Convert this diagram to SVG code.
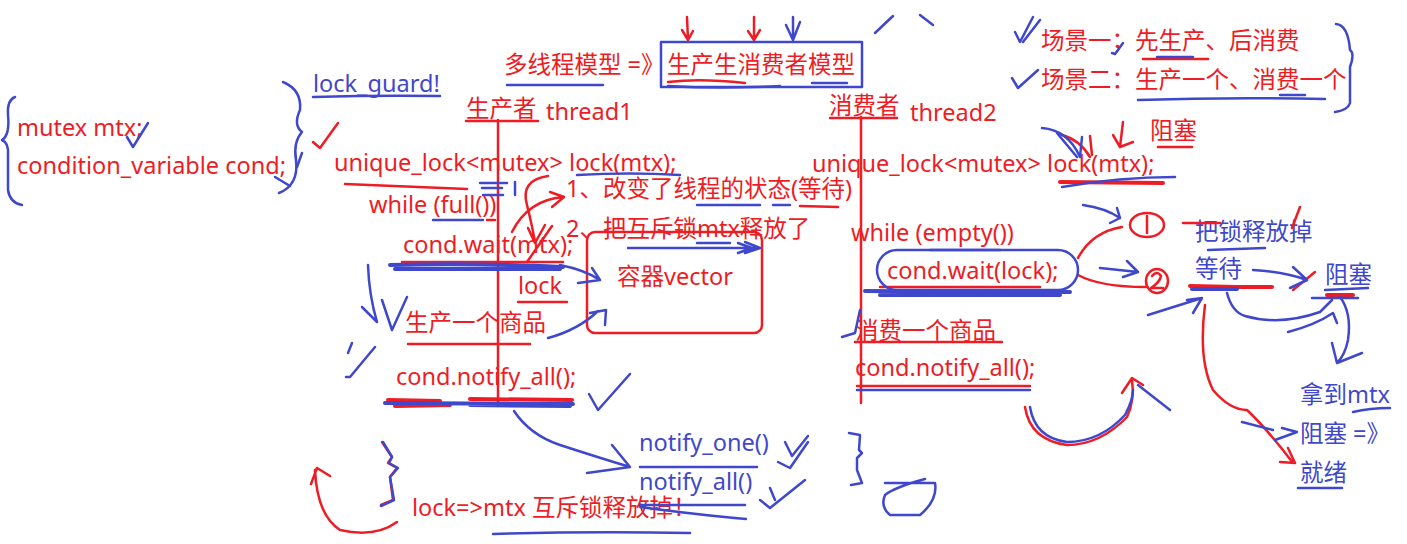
<svg xmlns="http://www.w3.org/2000/svg" width="1407" height="544" viewBox="0 0 1407 544">
<style>
text{font-family:"Noto Sans","Noto Sans CJK SC",sans-serif;font-size:23.5px}
.r{fill:#ee1c24}
.b{fill:#3f48cc}
.rs{stroke:#ee1c24;fill:none;stroke-width:2.5;stroke-linecap:round;stroke-linejoin:round}
.bs{stroke:#3f48cc;fill:none;stroke-width:2.5;stroke-linecap:round;stroke-linejoin:round}
.th{stroke-width:4}
</style>
<rect width="1407" height="544" fill="#fff"/>
<g id="texts">
<text class="b" x="313" y="92">lock_guard!</text>
<text class="r" x="17" y="136">mutex mtx;</text>
<text class="r" x="17" y="174">condition_variable cond;</text>
<text class="r" x="504" y="73">多线程模型 =》</text>
<text class="r" x="667" y="73">生产生消费者模型</text>
<text class="r" x="466" y="117">生产者</text>
<text class="r" x="546" y="120">thread1</text>
<text class="r" x="829" y="114">消费者</text>
<text class="r" x="910" y="121">thread2</text>
<text class="r" x="1041" y="49">场景一；先生产、后消费</text>
<text class="r" x="1041" y="88">场景二：生产一个、消费一个</text>
<text class="r" x="1150" y="139">阻塞</text>
<text class="r" x="334" y="171">unique_lock&lt;mutex&gt; lock(mtx);</text>
<text class="r" x="812" y="172">unique_lock&lt;mutex&gt; lock(mtx);</text>
<text class="r" x="369" y="213">while (full())</text>
<text class="r" x="566" y="197">1、改变了线程的状态(等待)</text>
<text class="r" x="566" y="237">2、把互斥锁mtx释放了</text>
<text class="r" x="403" y="253">cond.wait(mtx);</text>
<text class="r" x="851" y="241">while (empty())</text>
<text class="r" x="887" y="279">cond.wait(lock);</text>
<text class="r" x="617" y="285">容器vector</text>
<text class="r" x="518" y="294">lock</text>
<text class="r" x="405" y="331">生产一个商品</text>
<text class="r" x="855" y="339">消费一个商品</text>
<text class="r" x="396" y="385">cond.notify_all();</text>
<text class="r" x="855" y="376">cond.notify_all();</text>
<text class="b" x="639" y="451">notify_one()</text>
<text class="b" x="639" y="490">notify_all()</text>
<text class="r" x="412" y="516">lock=&gt;mtx 互斥锁释放掉！</text>
<text class="b" x="1195" y="240">把锁释放掉</text>
<text class="b" x="1195" y="277">等待</text>
<text class="b" x="1325" y="283">阻塞</text>
<text class="b" x="1300" y="403">拿到mtx</text>
<text class="b" x="1300" y="442">阻塞 =》</text>
<text class="b" x="1300" y="481">就绪</text>
</g>
<g id="red-strokes">
<path class="rs" d="M498 120V406M861 117V403"/>
<path class="rs" d="M466 121H538M830 118H897"/>
<path class="rs" d="M687 17L688 40M682 30L688 40L693 31M754 17L754 40M748 31L754 40L760 30"/>
<path class="rs" d="M668 82Q700 78 745 83"/>
<path class="rs" d="M313 142L320 148L338 123"/>
<path class="rs" d="M345 184Q400 186 467 189"/>
<path class="rs" d="M487 220H495"/>
<path class="rs" d="M548 176Q520 180 527 205Q532 225 535 242M528 228L535 243L545 225"/>
<path class="rs" d="M512 232Q528 200 563 197M550 192L564 197L552 207"/>
<path class="rs" d="M527 262L552 226"/>
<path class="rs" d="M402 262H563"/>
<path class="rs" d="M518 302H567"/>
<rect class="rs" x="587" y="232" width="175" height="101" rx="8"/>
<path class="rs" d="M800 206L838 207"/>
<path class="rs" d="M408 344H530"/>
<path class="rs th" d="M388 400L440 401M470 399L572 400M395 406L450 405"/>
<path class="rs" d="M382 442L392 457L388 463L397 468L390 477L393 500L381 505"/>
<path class="rs" d="M397 522Q375 538 340 530Q317 515 315 470M311 484L317 468L330 476"/>
<path class="rs" d="M1143 59H1208"/>
<path class="rs" d="M1090 136L1092 155M1123 122L1120 147M1113 135L1120 147L1133 142"/>
<path class="rs" d="M1062 135Q1080 140 1090 157"/>
<path class="rs" d="M1158 147H1192"/>
<path class="rs th" d="M1060 182L1163 183"/>
<ellipse class="rs" cx="1147" cy="225" rx="17" ry="12"/>
<path class="rs" d="M1147 216V233"/>
<path class="rs" d="M1078 258Q1092 232 1122 227"/>
<ellipse class="rs" cx="1157" cy="281" rx="11" ry="12"/>
<path class="rs" d="M1152 276Q1157 270 1161 276Q1160 282 1151 288H1163"/>
<path class="rs" d="M1078 275Q1100 287 1146 287"/>
<path class="rs" d="M1183 223H1220M1292 228L1300 207"/>
<path class="rs th" d="M1190 286L1237 287M1237 287H1272"/>
<path class="rs" d="M1293 290L1315 272"/>
<path class="rs th" d="M1327 295H1353"/>
<path class="rs" d="M1205 305Q1198 360 1213 390Q1230 410 1247 410Q1268 430 1293 463M1288 448L1295 463L1280 462"/>
<path class="rs" d="M880 287H1040"/>
<path class="rs" d="M855 342H1002"/>
<path class="rs" d="M857 386H1030"/>
<path class="rs" d="M1025 407Q1030 440 1067 445Q1100 445 1127 417Q1135 400 1132 380M1122 393L1132 378L1143 385"/>
</g>
<g id="blue-strokes">
<path class="bs" d="M507 85H603"/>
<rect class="bs" x="661" y="42" width="201" height="45"/>
<path class="bs" d="M668 86Q720 89 780 86M812 83H847"/>
<path class="bs" d="M793 17L793 40M786 25L793 40M800 22L793 40"/>
<path class="bs" d="M875 33L893 16M920 15L933 25"/>
<path class="bs" d="M313 97Q380 95 440 96"/>
<path class="bs" d="M283 82Q302 90 300 110Q293 125 302 132Q293 142 296 160Q299 185 279 193"/>
<path class="bs" d="M275 177L290 186M297 167L302 153"/>
<path class="bs" d="M15 97Q7 100 8 115Q10 135 2 140Q9 143 8 155V190Q10 203 22 205"/>
<path class="bs" d="M127 137L133 147L148 123"/>
<path class="bs" d="M480 183H507M482 188H502M483 195H503M515 182V195"/>
<path class="bs" d="M433 220H483"/>
<path class="bs" d="M577 175Q630 172 680 175"/>
<path class="bs th" d="M390 265Q480 263 563 267M395 269L560 269"/>
<path class="bs" d="M560 265Q585 270 600 280M592 268L600 280L578 283"/>
<path class="bs" d="M628 248H757M745 242L760 248L745 253M738 243L752 248L738 253"/>
<path class="bs" d="M697 205H760M773 205H790"/>
<path class="bs" d="M697 243H730"/>
<path class="bs" d="M548 338Q578 330 598 311M590 313L606 310L605 325"/>
<path class="bs" d="M368 265Q369 295 377 322M362 307L377 322"/>
<path class="bs" d="M382 300L392 330L407 297"/>
<path class="bs" d="M352 343L348 353M375 347L350 377L346 377"/>
<path class="bs th" d="M385 403L573 404M470 405L570 406"/>
<path class="bs" d="M589 394L598 410L630 374"/>
<path class="bs" d="M514 411Q530 435 560 445Q600 458 630 467M612 445L630 467L587 473"/>
<path class="bs" d="M640 467H757"/>
<path class="bs" d="M785 442L792 456L808 436M778 462L790 468L808 442"/>
<path class="bs" d="M640 505H745M640 507Q700 515 746 519"/>
<path class="bs" d="M760 500L770 508L805 480M770 488L775 500"/>
<path class="bs" d="M383 442L392 457L389 463L398 468L390 477L394 500L381 506"/>
<path class="bs" d="M493 534Q590 531 690 533"/>
<path class="bs" d="M849 433L860 435L859 450L862 453L857 458L857 470L862 483L851 485"/>
<path class="bs" d="M885 483H935Q938 500 920 515H890Q880 507 885 495Q895 487 925 479"/>
<path class="bs" d="M1015 32L1020 42L1033 17M1023 42L1040 20"/>
<path class="bs" d="M1012 78L1018 88L1038 70"/>
<path class="bs" d="M1112 53L1115 54L1123 43"/>
<path class="bs" d="M1157 57H1193"/>
<path class="bs" d="M1138 100Q1230 97 1325 99M1280 95H1305"/>
<path class="bs" d="M1336 24Q1348 25 1350 50Q1355 53 1350 67V103Q1348 110 1335 112"/>
<path class="bs" d="M1042 128Q1068 130 1080 157M1057 133L1077 157M1082 137L1080 157"/>
<path class="bs" d="M1062 187Q1120 177 1175 177"/>
<path class="bs" d="M1083 205Q1105 208 1120 218M1117 208L1120 218L1110 223"/>
<rect class="bs" x="877" y="250" width="201" height="40" rx="20"/>
<path class="bs" d="M930 250H1000"/>
<path class="bs th" d="M865 291Q970 292 1070 292M880 295H1060"/>
<path class="bs" d="M1100 268L1138 272M1127 261L1138 272L1123 277"/>
<path class="bs" d="M1208 250L1265 248"/>
<path class="bs th" d="M1192 289L1237 289"/>
<path class="bs" d="M1253 270Q1285 272 1307 280M1293 267L1307 280L1290 288"/>
<path class="bs" d="M1325 290L1368 288M1312 298H1358"/>
<path class="bs" d="M1148 315Q1180 305 1202 298M1187 300L1202 298L1193 313"/>
<path class="bs" d="M1227 293Q1232 312 1245 316Q1280 326 1320 312L1332 300M1288 332Q1315 325 1333 313L1337 323"/>
<path class="bs" d="M1340 297Q1352 313 1348 340Q1345 355 1337 363M1332 343L1337 363L1362 353"/>
<path class="bs" d="M1242 422L1273 430M1282 428L1297 432L1275 440"/>
<path class="bs" d="M1353 412Q1370 408 1390 408"/>
<path class="bs" d="M1298 488H1342"/>
<path class="bs" d="M860 310L855 333L842 337"/>
<path class="bs" d="M857 390H1030"/>
<path class="bs" d="M1030 407Q1035 438 1067 442Q1100 442 1125 415Q1133 400 1133 390M1138 385L1170 410"/>
</g>
</svg>
